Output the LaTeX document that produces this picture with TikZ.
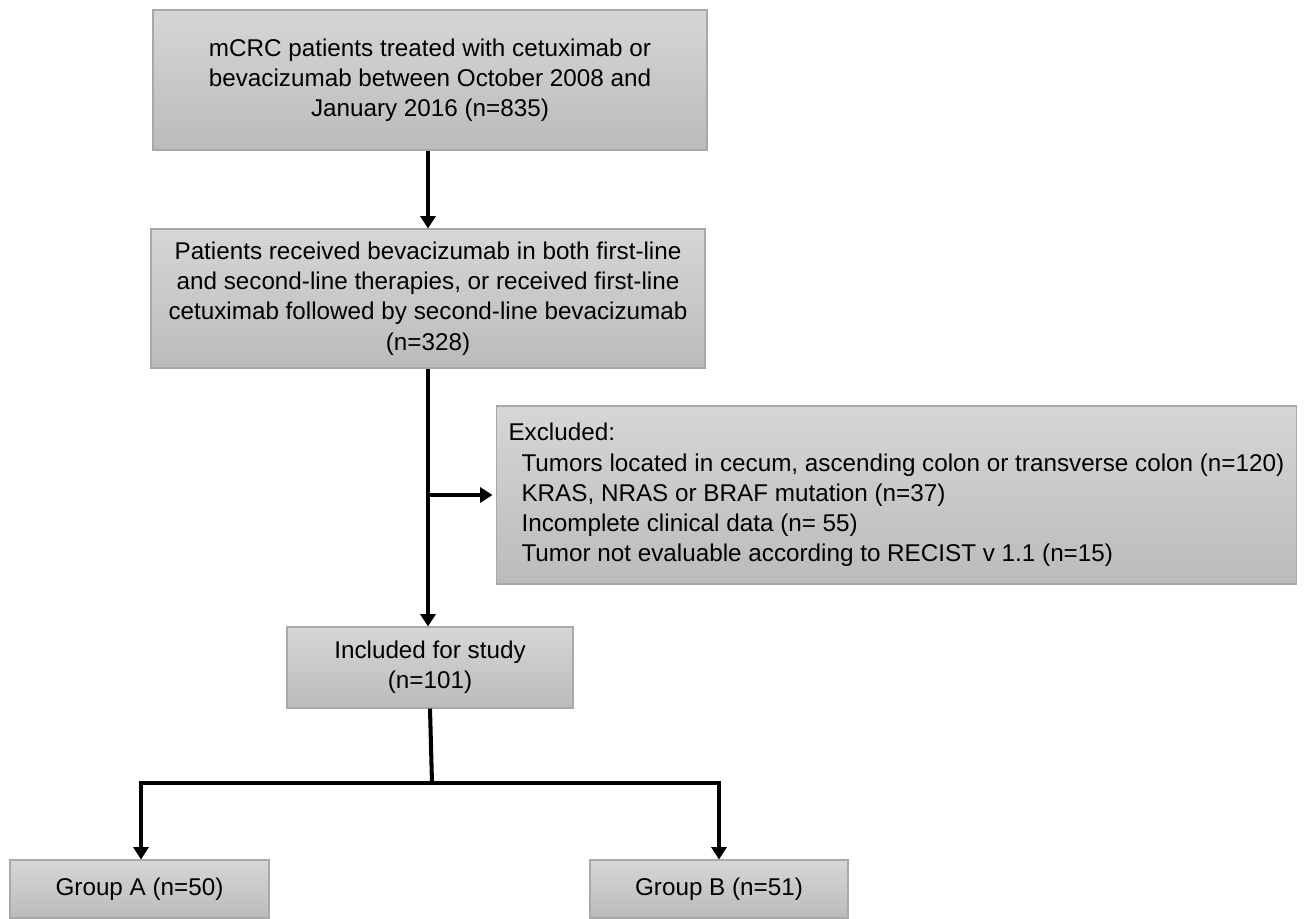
\documentclass[tikz,border=0pt]{standalone}
\usepackage{fontspec}
\setmainfont{Liberation Sans}
\usepackage{tikz}
\usetikzlibrary{arrows.meta, positioning, calc}
\usepackage{xcolor}
\definecolor{boxtop}{HTML}{D6D6D6}
\definecolor{boxbot}{HTML}{BBBBBB}
\definecolor{boxline}{HTML}{A8A8A8}

\begin{document}
\begin{tikzpicture}[
    stage/.style={rectangle, draw=boxline, top color=boxtop, bottom color=boxbot,
                  align=center, font=\fontsize{13.8}{17.2}\selectfont, line width=0.6pt,
                  inner sep=0pt},
    arrow/.style={-{Triangle[length=7pt, width=8.5pt]}, line width=2.3pt, black},
    link/.style={line width=2.3pt, black}
  ]
    \useasboundingbox (0,0) rectangle (26.08,-18.38);
    \node[stage, minimum width=11.08cm, minimum height=2.8cm] (mcrc) at (8.6,-1.6) {mCRC patients treated with cetuximab or\\bevacizumab between October 2008 and\\January 2016 (n=835)};
    \node[stage, minimum width=11.08cm, minimum height=2.78cm] (recv) at (8.56,-5.97) {Patients received bevacizumab in both first-line\\and second-line therapies, or received first-line\\cetuximab followed by second-line bevacizumab\\(n=328)};
    \node[stage, minimum width=15.98cm, minimum height=3.56cm, anchor=west, align=left, inner xsep=0.24cm] (excl) at (9.92,-9.9) {Excluded:\\\hspace{0.26cm}Tumors located in cecum, ascending colon or transverse colon (n=120)\\\hspace{0.26cm}KRAS, NRAS or BRAF mutation (n=37)\\\hspace{0.26cm}Incomplete clinical data (n= 55)\\\hspace{0.26cm}Tumor not evaluable according to RECIST v 1.1 (n=15)};
    \node[stage, minimum width=5.72cm, minimum height=1.62cm] (incl) at (8.6,-13.35) {Included for study\\(n=101)};
    \node[stage, minimum width=5.18cm, minimum height=1.16cm] (grpa) at (2.79,-17.78) {Group A (n=50)};
    \node[stage, minimum width=5.16cm, minimum height=1.16cm] (grpb) at (14.38,-17.78) {Group B (n=51)};
    \coordinate (split) at (8.64,-15.66);
    \draw[arrow] (recv.north |- mcrc.south) -- (recv.north);
    \draw[arrow] (recv.south) -- (recv.south |- incl.north);
    \draw[arrow, shorten >=2pt] (recv.south |- excl.west) -- (excl.west);
    \draw[link] (incl.south) -- (split);
    \draw[arrow] (split) -| ($(grpa.north)+(0.03,0)$);
    \draw[arrow] (split) -| (grpb.north);
  \end{tikzpicture}
\end{document}
